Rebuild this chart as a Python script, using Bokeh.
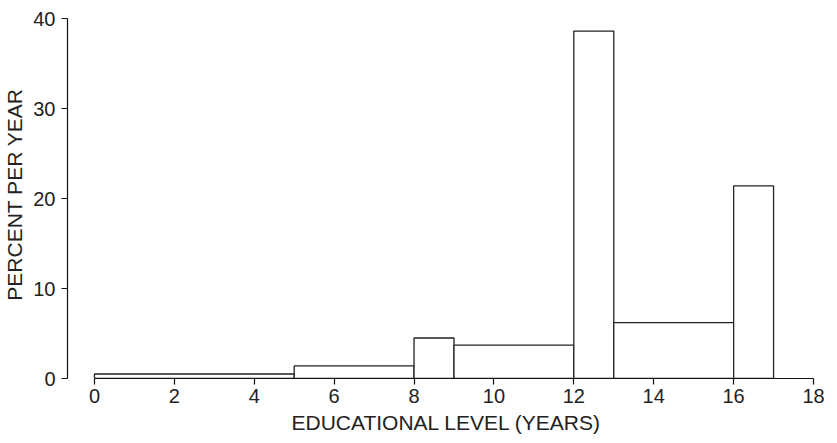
from bokeh.plotting import figure
from bokeh.models import Range1d, FixedTicker
from bokeh.embed import file_html
from bokeh.resources import INLINE

# Histogram of educational level (years of schooling)
bin_left = [0, 5, 8, 9, 12, 13, 16]
bin_right = [5, 8, 9, 12, 13, 16, 17]
percent_per_year = [0.5, 1.4, 4.5, 3.7, 38.6, 6.2, 21.4]
x_ticks = [0, 2, 4, 6, 8, 10, 12, 14, 16, 18]
y_ticks = [0, 10, 20, 30, 40]

W, H = 837, 443
ML, MR, MT, MB = 66, 12, 10, 65
px_per_x = 40.0
px_per_y = 9.0
x0 = -(93 - ML) / px_per_x
x1 = x0 + (W - ML - MR) / px_per_x
y1 = (H - MT - MB) / px_per_y

p = figure(width=W, height=H, output_backend="svg", toolbar_location=None,
           x_range=Range1d(x0, x1), y_range=Range1d(0, y1),
           min_border_left=ML, min_border_right=MR, min_border_top=MT,
           min_border_bottom=MB)

p.quad(left=bin_left, right=bin_right, top=percent_per_year, bottom=0,
       fill_color="white", line_color="#222222", line_width=1.3)

FONT = "Liberation Sans"
for ax in (p.xaxis[0], p.yaxis[0]):
    ax.axis_line_color = "#111111"
    ax.axis_line_width = 1.2
    ax.major_tick_line_color = "#111111"
    ax.major_tick_line_width = 1.2
    ax.major_tick_in = 0
    ax.major_tick_out = 6
    ax.minor_tick_line_color = None
    ax.major_label_text_font = FONT
    ax.major_label_text_font_size = "20px"
    ax.major_label_text_color = "#222222"
    ax.axis_label_text_font = FONT
    ax.axis_label_text_font_size = "21px"
    ax.axis_label_text_font_style = "normal"
    ax.axis_label_text_color = "#222222"

p.xaxis.ticker = FixedTicker(ticks=x_ticks)
p.yaxis.ticker = FixedTicker(ticks=y_ticks)
p.xaxis.bounds = (0, 18)
p.yaxis.bounds = (0, 40)
p.xaxis.axis_label = "EDUCATIONAL LEVEL (YEARS)"
p.yaxis.axis_label = "PERCENT PER YEAR"
p.xaxis.major_label_standoff = 4
p.yaxis.major_label_standoff = 6
p.xaxis.axis_label_standoff = 5
p.yaxis.axis_label_standoff = 4

p.xgrid.grid_line_color = None
p.ygrid.grid_line_color = None
p.outline_line_color = None
p.background_fill_color = "white"
p.border_fill_color = "white"

open("out.html", "w").write(file_html(p, INLINE))
